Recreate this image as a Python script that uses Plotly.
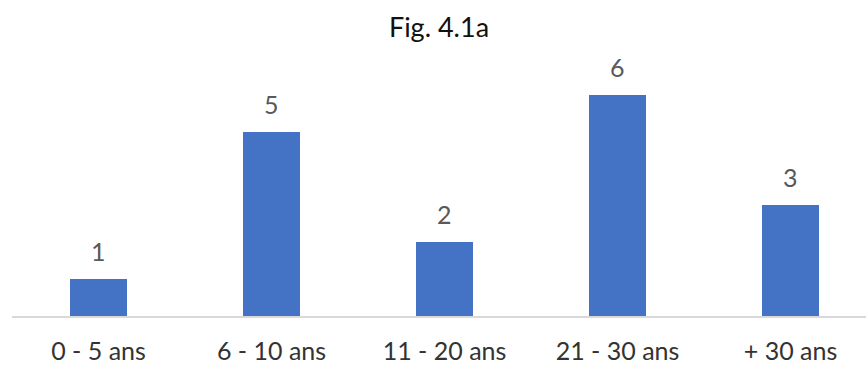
import plotly.graph_objects as go

categories = ["0 - 5 ans", "6 - 10 ans", "11 - 20 ans", "21 - 30 ans", "+ 30 ans"]
counts = [1, 5, 2, 6, 3]

positions = list(range(len(categories)))

fig = go.Figure(
    go.Bar(
        x=positions,
        y=counts,
        width=0.33,
        marker=dict(color="#4472C4", line=dict(width=0)),
    )
)

# value labels above each bar
for xi, v in zip(positions, counts):
    fig.add_annotation(
        x=xi,
        y=v,
        xref="x",
        yref="y",
        text=str(v),
        showarrow=False,
        yanchor="bottom",
        yshift=11,
        font=dict(family="Lato", size=25, color="#595959"),
    )

fig.update_layout(
    width=866,
    height=365,
    margin=dict(l=12, r=0, t=58, b=49, autoexpand=False),
    paper_bgcolor="white",
    plot_bgcolor="white",
    showlegend=False,
    title=dict(
        text="Fig. 4.1a",
        x=0.5,
        xref="paper",
        xanchor="center",
        y=1 - 28 / 365,
        yref="container",
        yanchor="middle",
        font=dict(family="Lato", size=27, color="#111111"),
    ),
    xaxis=dict(
        tickmode="array",
        tickvals=positions,
        ticktext=categories,
        range=[-0.5, 4.436],
        automargin=False,
        showgrid=False,
        zeroline=False,
        showline=True,
        linecolor="#D9D9D9",
        linewidth=1.5,
        ticks="",
        ticklabelstandoff=12,
        tickfont=dict(family="Lato", size=25, color="#333333"),
    ),
    yaxis=dict(
        range=[0, 7],
        visible=False,
        automargin=False,
    ),
    bargap=0,
)

fig.write_html("out.html")
